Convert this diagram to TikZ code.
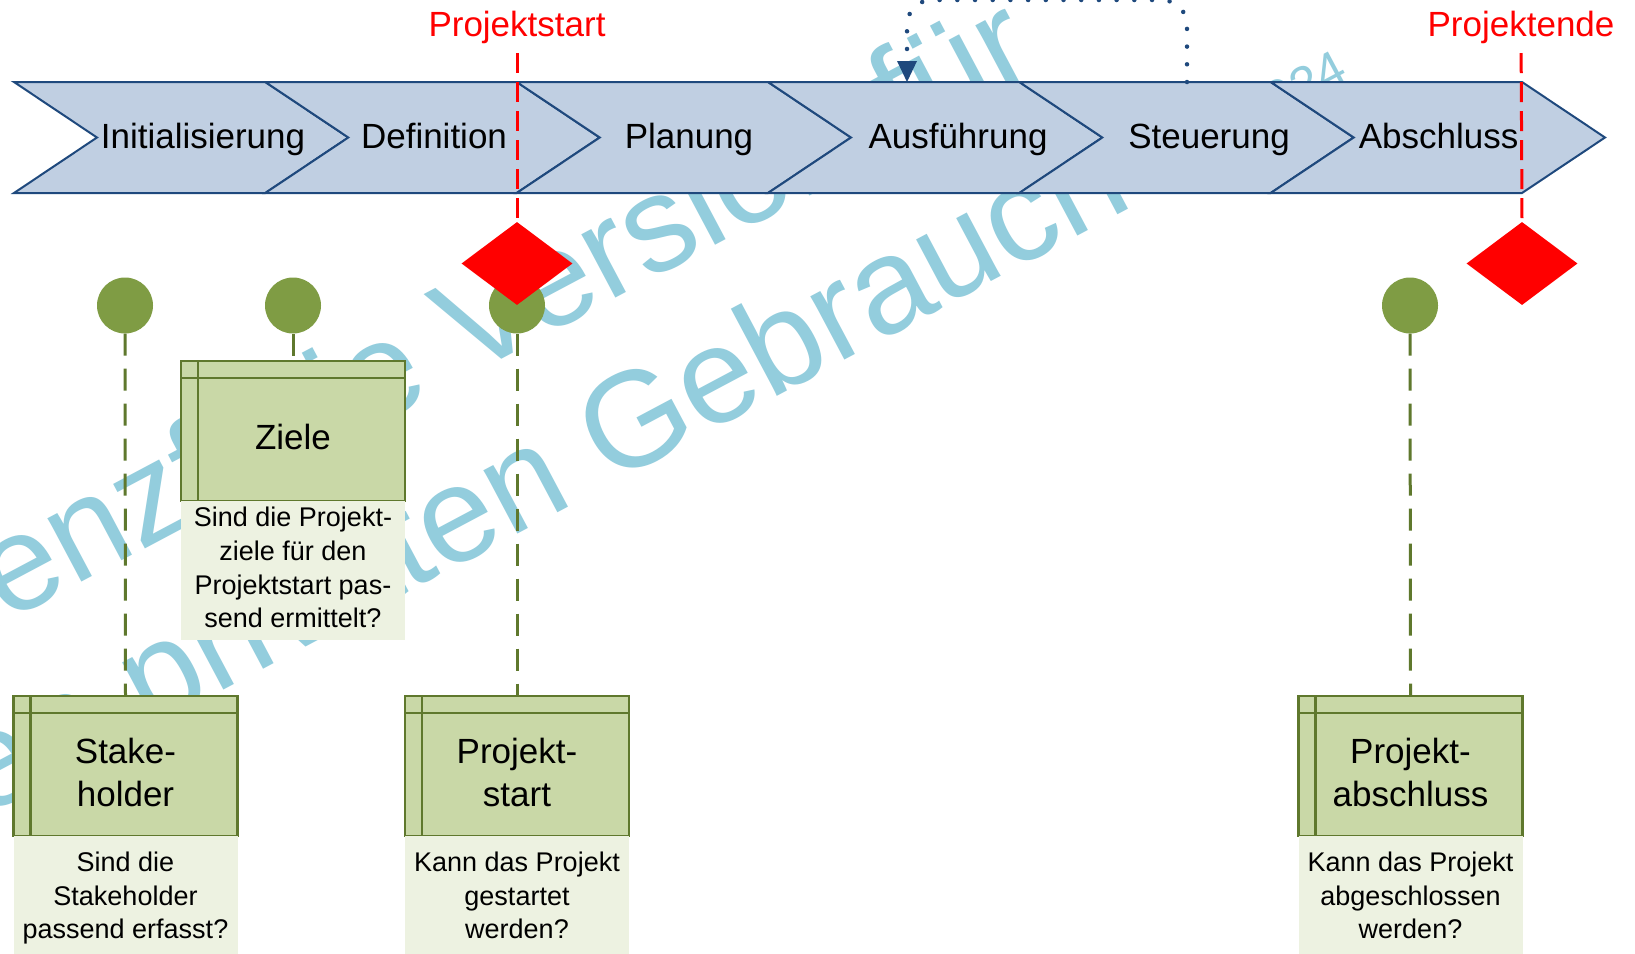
\documentclass[tikz,border=0pt]{standalone}
\usepackage{fontspec}
\setmainfont{Liberation Sans}
\usetikzlibrary{arrows.meta,shapes.geometric}
\definecolor{chevfill}{RGB}{192,207,226}
\definecolor{chevline}{RGB}{31,73,125}
\definecolor{boxfill}{RGB}{201,216,167}
\definecolor{boxline}{RGB}{95,120,45}
\definecolor{qfill}{RGB}{237,242,225}
\definecolor{dotgreen}{RGB}{127,156,68}
\definecolor{wmark}{RGB}{147,205,221}
\begin{document}
\begin{tikzpicture}[x=1pt,y=-1pt,
  chev/.style={fill=chevfill,draw=chevline,line width=2pt,line join=miter},
  chevtxt/.style={anchor=base,inner sep=0pt,font=\fontsize{35}{42}\selectfont},
  wm/.style={rotate=28,anchor=base west,inner sep=0pt,text=wmark,font=\fontsize{136}{160}\selectfont},
  wmsmall/.style={wm,font=\fontsize{50}{60}\selectfont},
  gdot/.style={circle,fill=dotgreen,minimum size=56pt,inner sep=0pt},
  gbox/.style={rectangle,fill=boxfill,draw=boxline,line width=2.5pt,minimum width=224pt,minimum height=140pt,inner sep=0pt,
    path picture={\draw[boxline,line width=2.5pt]
      ([xshift=17pt]path picture bounding box.north west) -- ([xshift=17pt]path picture bounding box.south west)
      ([yshift=-17pt]path picture bounding box.north west) -- ([yshift=-17pt]path picture bounding box.north east);}},
  gtitle/.style={align=center,inner sep=0pt,font=\fontsize{35}{43}\selectfont},
  qbox/.style={rectangle,fill=qfill,minimum width=224pt,inner sep=0pt,align=center,font=\fontsize{27}{33.6}\selectfont},
  gdash/.style={draw=boxline,line width=3pt,dash pattern=on 22pt off 13pt},
  rdash/.style={draw=red,line width=3pt,dash pattern=on 20pt off 9pt,shorten <=9.6pt},
  msdia/.style={diamond,fill=red,minimum width=111pt,minimum height=83pt,inner sep=0pt},
  mslabel/.style={anchor=base,inner sep=0pt,text=red,font=\fontsize{35}{42}\selectfont},
  loopline/.style={draw=chevline,line width=4.5pt,line cap=round,dash pattern=on 0pt off 17.7pt,rounded corners=25pt,
    -{Triangle[width=20pt,length=21pt,line width=0pt]}}
]
\useasboundingbox (0,0) rectangle (1635,953);
\fill[white] (0,0) rectangle (1635,953);

% watermark
\node[wm] (wm1) at (-146.8,704) {Lizenzfreie Version für};
\node[wm] (wm2) at (-85,854.5) {den privaten Gebrauch};
\node[wmsmall] (wm3) at (1252,132) {2024};

% chevrons
\foreach \b in {14,265.3,516.7,768,1019.3,1270.7}
  \draw[chev] (\b,82) -- ++(251.3,0) -- ++(83,55.5) -- ++(-83,55.5) -- ++(-251.3,0) -- ++(83,-55.5) -- cycle;

\node[chevtxt] (p1) at (203,148.3) {Initialisierung};
\node[chevtxt] (p2) at (434,148.3) {Definition};
\node[chevtxt] (p3) at (689,148.3) {Planung};
\node[chevtxt] (p4) at (958,148.3) {Ausführung};
\node[chevtxt] (p5) at (1209,148.3) {Steuerung};
\node[chevtxt] (p6) at (1438.5,148.3) {Abschluss};

% feedback loop
\coordinate (steu) at (1187,82);
\coordinate (ausf) at (907,82);
\draw[loopline] (steu) -- (1187,0) -- (907,0) -- (ausf);

% circles
\node[gdot] (c1) at (125,305.5) {};
\node[gdot] (c2) at (293,305.5) {};
\node[gdot] (c3) at (517,305.5) {};
\node[gdot] (c4) at (1410,305.5) {};

% boxes
\node[gbox] (bz) at (293,431) {};
\node[gbox] (bs) at (125.5,766) {};
\node[gbox] (bp) at (517,766) {};
\node[gbox] (ba) at (1410.5,766) {};

\draw[gdash] (c1) -- (bs.north);
\draw[gdash] (c2) -- (bz.north);
\draw[gdash] (c3) -- (bp.north);
\draw[gdash] (c4) -- (ba.north);

\node[gtitle] (tz) at (293,440.9) {\strut Ziele};
\node[gtitle] (ts) at (125.5,775.9) {\strut Stake-\\\strut holder};
\node[gtitle] (tp) at (517,775.9) {\strut Projekt-\\\strut start};
\node[gtitle] (ta) at (1410.5,775.9) {\strut Projekt-\\\strut abschluss};

\node[qbox,minimum height=139pt] (qz) at (293,570.5)
  {\strut Sind die Projekt-\\\strut ziele für den\\\strut Projektstart pas-\\\strut send ermittelt?};
\node[qbox,minimum height=125pt] (qs) at (125.5,898.4)
  {\strut Sind die\\\strut Stakeholder\\\strut passend erfasst?};
\node[qbox,minimum height=125pt] (qp) at (517,898.4)
  {\strut Kann das Projekt\\\strut gestartet\\\strut werden?};
\node[qbox,minimum height=125pt] (qa) at (1410.5,898.4)
  {\strut Kann das Projekt\\\strut abgeschlossen\\\strut werden?};

% milestones
\node[msdia] (d1) at (517,263.5) {};
\node[msdia] (d2) at (1522,263.5) {};
\node[mslabel] (l1) at (517,36) {Projektstart};
\node[mslabel] (l2) at (1521,36) {Projektende};
\draw[rdash] (l1) -- (d1.north);
\draw[rdash] (l2) -- (d2.north);
\end{tikzpicture}
\end{document}
